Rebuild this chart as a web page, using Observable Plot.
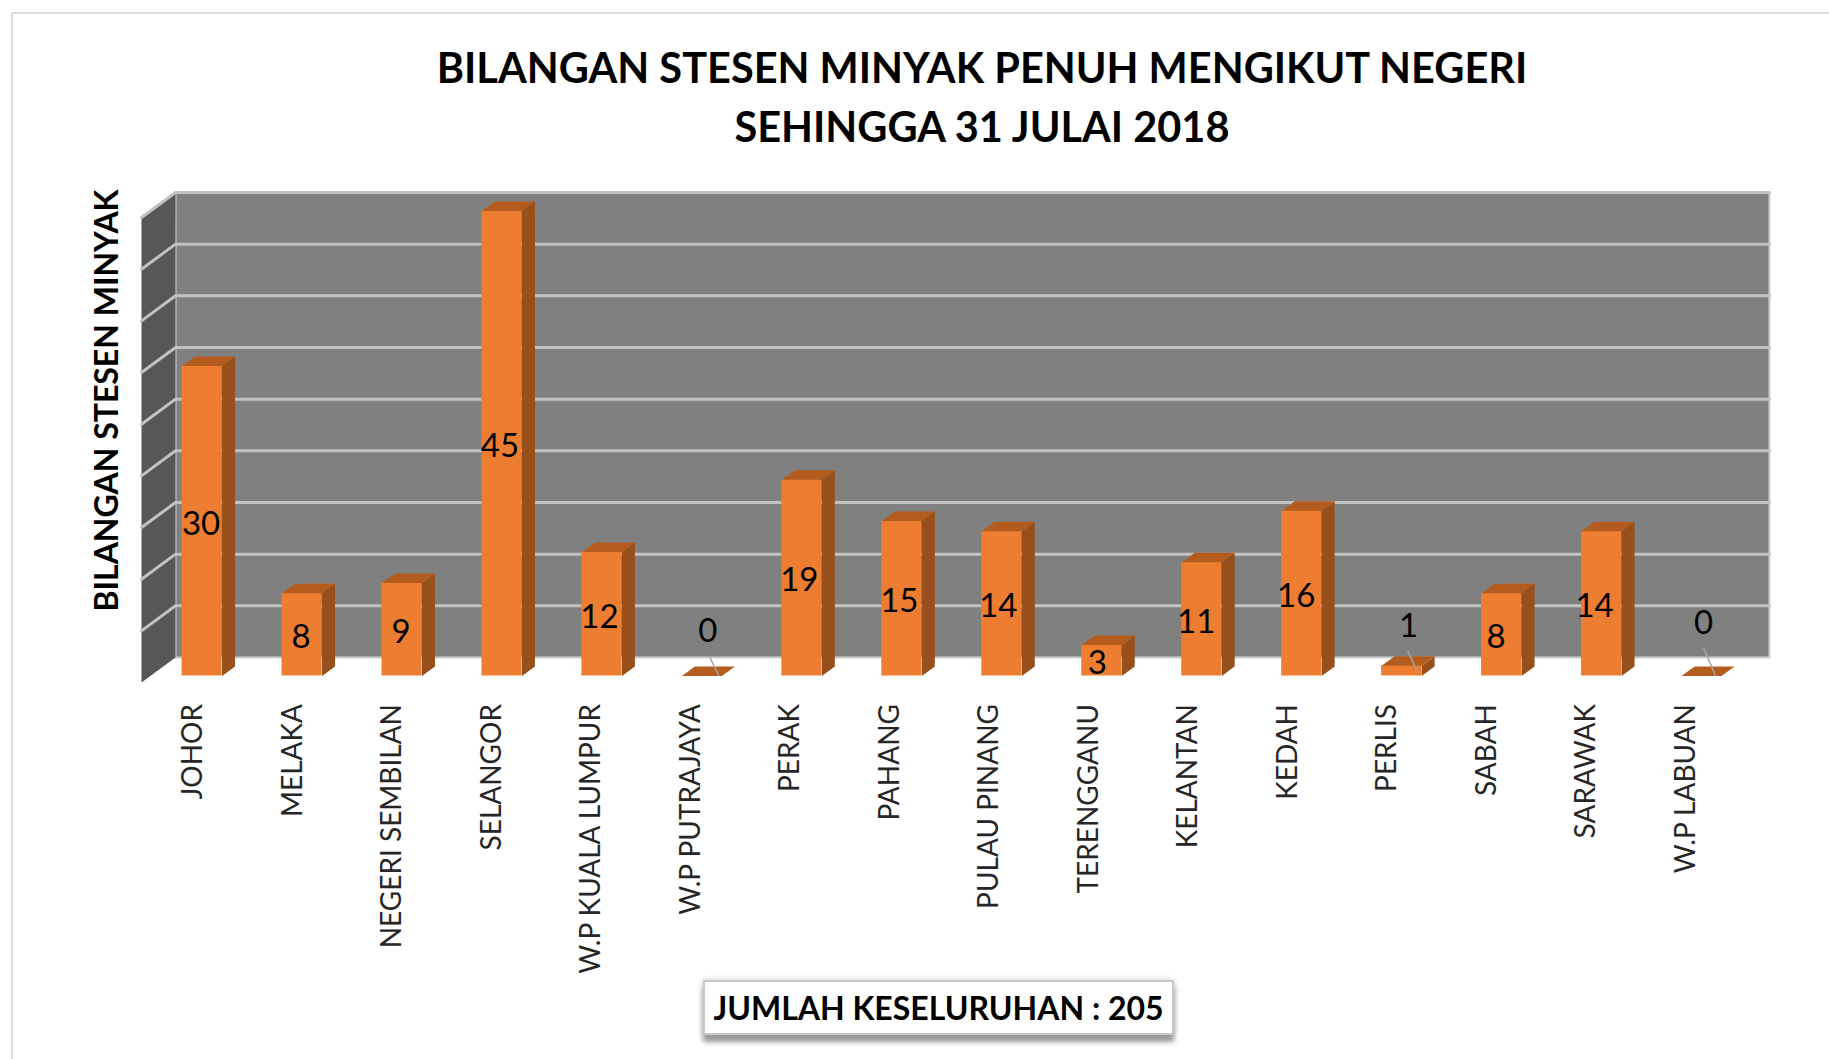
<!DOCTYPE html>
<html><head><meta charset="utf-8">
<script src="https://cdn.jsdelivr.net/npm/d3@7"></script>
<script src="https://cdn.jsdelivr.net/npm/@observablehq/plot@0.6"></script>
<style>
html,body{margin:0;padding:0;background:#fff;overflow:hidden}
#page{position:relative;width:1829px;height:1059px;font-family:Lato,sans-serif}
#frame{position:absolute;left:11px;top:12px;width:1840px;height:1100px;border:2px solid #dcdcdc;box-sizing:border-box}
#title{position:absolute;left:0;top:38px;width:1964px;text-align:center;font-weight:700;font-size:41.5px;line-height:59px;color:#000}
#total{position:absolute;left:703px;top:980px;width:471px;height:55px;box-sizing:border-box;border:2px solid #c8c8c8;background:#fff;box-shadow:0 7px 5px #999,0 0 6px #ccc;text-align:center;font-weight:700;font-size:32px;line-height:51px;color:#000;white-space:nowrap}
#chart{position:absolute;left:0;top:0}
</style></head>
<body><div id="page">
<div id="frame"></div>
<div id="title">BILANGAN STESEN MINYAK PENUH MENGIKUT NEGERI<br>SEHINGGA 31 JULAI 2018</div>
<div id="chart"></div>
<div id="total">JUMLAH KESELURUHAN : 205</div>
</div>
<script>
const states = ["JOHOR","MELAKA","NEGERI SEMBILAN","SELANGOR","W.P KUALA LUMPUR","W.P PUTRAJAYA","PERAK","PAHANG","PULAU PINANG","TERENGGANU","KELANTAN","KEDAH","PERLIS","SABAH","SARAWAK","W.P LABUAN"];
const stations = [30,8,9,45,12,0,19,15,14,3,11,16,1,8,14,0];
const gridValues = [0,5,10,15,20,25,30,35,40,45];
// small-value labels sit above the bar with a leader line: [index, labelX, labelY, fromX, fromY, toX, toY]
const leaders = [[5,5.06,4.4,5.08,1.8,5.17,0],[12,12.07,4.9,12.06,2.46,12.15,0.53],[15,15.02,5.2,15.02,2.75,15.14,0]];
// labels drift a little left of their bars in the reference
const labelDrift = [0,0,0,-.01,-.015,0,-.015,-.015,-.025,-.035,-.045,-.045,0,-.045,-.06,0];

const halfBar = 0.2, barDx = 0.13, barDy = 0.92;
const wallDx = 0.34, wallBack = 1.79, wallFront = -0.63, axisMax = 45;
const xLeft = -0.606, xRight = 15.68, tickSqueeze = 0.9955;

const idx = d3.range(states.length);
const poly = (id, pts) => pts.map(([x,y]) => ({id, x, y}));
const sideFaces = idx.filter(i => stations[i] > 0).flatMap(i => {
  const r = i + halfBar, v = stations[i];
  return poly("s"+i, [[r,0],[r,v],[r+barDx,v+barDy],[r+barDx,barDy]]);
});
const topFaces = idx.flatMap(i => {
  const l = i - halfBar, r = i + halfBar, v = stations[i];
  return poly("t"+i, [[l,v],[r,v],[r+barDx,v+barDy],[l+barDx,v+barDy]]);
});
const xBack = xLeft + wallDx;
const sideWall = poly("w", [[xLeft,wallFront],[xBack,wallBack],[xBack,axisMax+wallBack],[xLeft,axisMax+wallFront]]);
const backWall = poly("b", [[xBack,wallBack],[xRight,wallBack],[xRight,axisMax+wallBack],[xBack,axisMax+wallBack]]);
const grid = gridValues.slice(1).flatMap(g => [
  {id:g, x:xLeft, y:g+wallFront},{id:g, x:xBack, y:g+wallBack},{id:g, x:xRight, y:g+wallBack}
]);
const closed = {curve:"linear-closed", x:"x", y:"y", z:"id", stroke:null};
const labelled = idx.filter(i => stations[i] > 1);

const chart = Plot.plot({
  width:1829, height:1059,
  marginLeft:141, marginRight:60, marginTop:192, marginBottom:377,
  style:{background:"transparent", fontFamily:"Lato, sans-serif"},
  x:{type:"linear", domain:[xLeft,xRight]},
  y:{type:"linear", domain:[wallFront,axisMax+wallBack], axis:null},
  marks:[
    Plot.line(backWall,{...closed, fill:"#808080", stroke:"#cfcfcf", strokeWidth:2}),
    Plot.line(sideWall,{...closed, fill:"#575757"}),
    Plot.line(grid,{x:"x", y:"y", z:"id", stroke:"#c2c2c2", strokeWidth:3, curve:"linear"}),
    Plot.rectY(idx,{x1:i=>i-halfBar, x2:i=>i+halfBar, y1:0, y2:i=>stations[i], fill:"#ED7D31"}),
    Plot.line(sideFaces,{...closed, fill:"#97501B"}),
    Plot.line(topFaces,{...closed, fill:"#B35C1E"}),
    Plot.link(leaders,{x1:d=>d[3], y1:d=>d[4], x2:d=>d[5], y2:d=>d[6], stroke:"#a6a6a6", strokeWidth:1.5}),
    Plot.text(labelled,{x:i=>i+labelDrift[i], y:i=>stations[i]/2, text:i=>String(stations[i]), fontSize:33, fill:"#000", dx:-1, dy:3}),
    Plot.text(leaders,{x:d=>d[1], y:d=>d[2], text:d=>String(stations[d[0]]), fontSize:33, fill:"#000", dy:1}),
    Plot.axisX({ticks:idx.map(i=>i*tickSqueeze), tickFormat:t=>states[Math.round(t)], tickSize:0, tickRotate:-90, tickPadding:21.5, anchor:"bottom", fontSize:28, textAnchor:"end", dx:-9, fill:"#262626", label:null}),
    Plot.text(["BILANGAN STESEN MINYAK"],{frameAnchor:"left", rotate:-90, textAnchor:"middle", dx:-34, dy:-37, fontWeight:700, fontSize:32, fill:"#000", text:d=>d})
  ]
});
document.getElementById("chart").append(chart);
</script>
</body></html>
